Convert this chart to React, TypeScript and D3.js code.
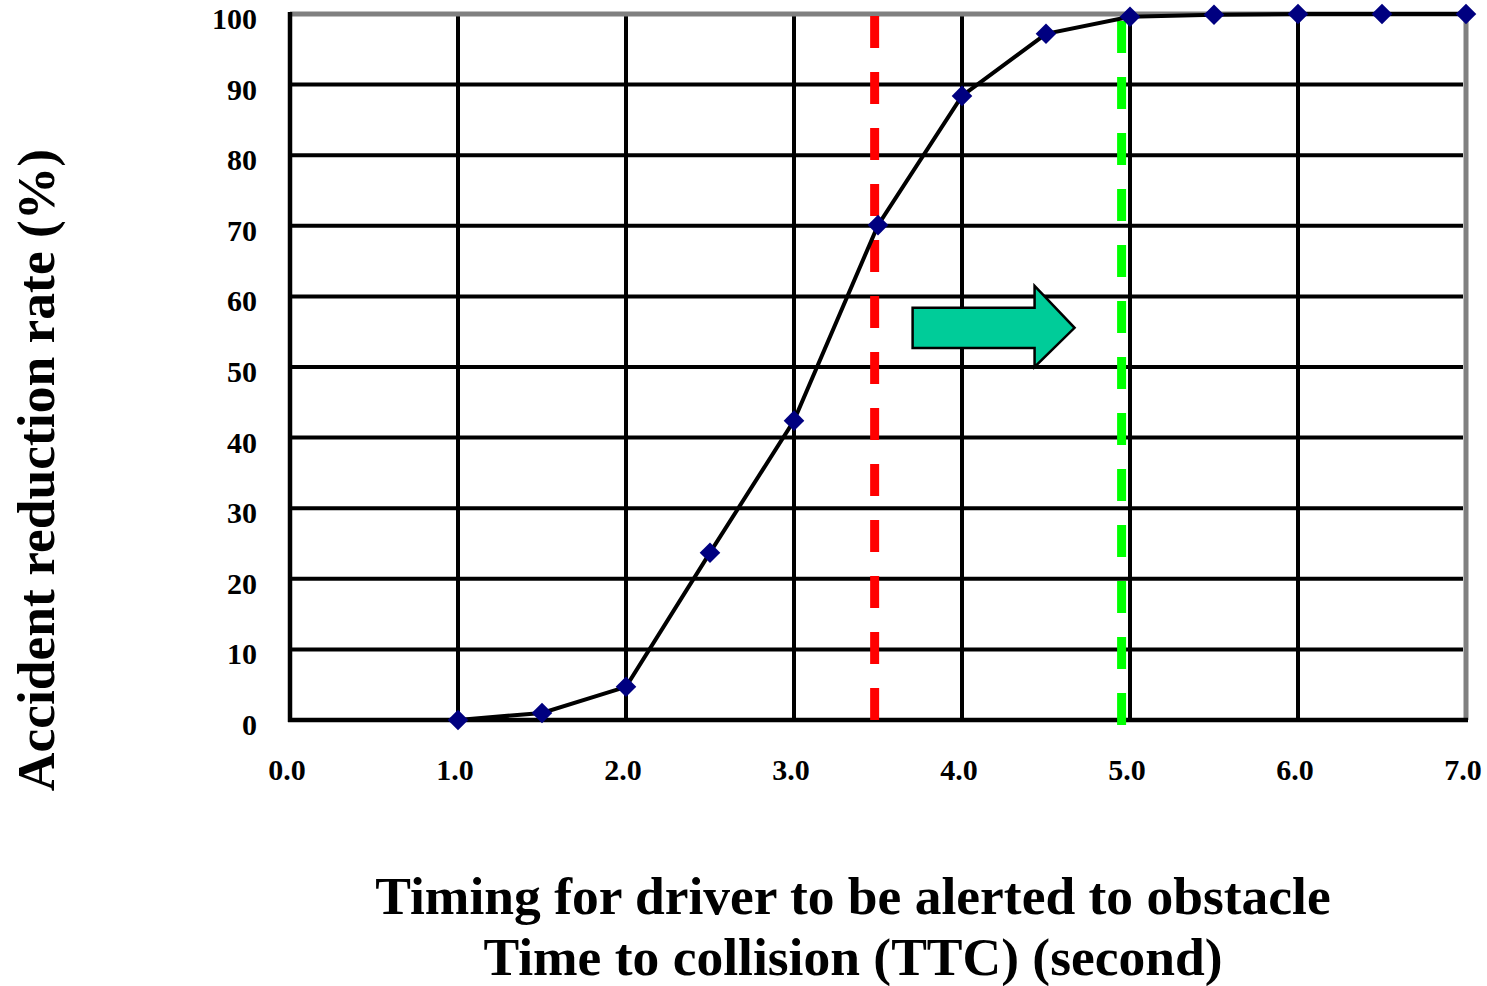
import React from "react";
import * as d3 from "d3";

const ttc = [1.0, 1.5, 2.0, 2.5, 3.0, 3.5, 4.0, 4.5, 5.0, 5.5, 6.0, 6.5, 7.0];
const reduction = [0, 1.0, 4.7, 23.7, 42.4, 70.1, 88.4, 97.2, 99.6, 99.9, 100, 100, 100];
const xTicks = [0, 1, 2, 3, 4, 5, 6, 7];
const yTicks = [0, 10, 20, 30, 40, 50, 60, 70, 80, 90, 100];
const redLineX = 3.48;
const greenLineX = 4.95;
// arrow annotation (data coords)
const arrowBody = { x0: 3.706, x1: 4.432, y0: 52.7, y1: 58.4 };
const arrowHead = { x: 4.432, tip: 4.67, yTop: 61.5, yBottom: 50.0, yMid: 55.55 };
const yTitle = "Accident reduction rate (%)";
const xTitle1 = "Timing for driver to be alerted to obstacle";
const xTitle2 = "Time to collision (TTC) (second)";

const W = 1487;
const H = 986;
const FONT = "'Liberation Serif', 'Times New Roman', serif";

export default function App() {
  const x = d3.scaleLinear().domain([0, 7]).range([290, 1466]);
  const y = d3.scaleLinear().domain([0, 100]).range([720, 14]);
  const line = d3
    .line<number>()
    .x((_, i) => x(ttc[i]))
    .y((d) => y(d));
  const diamond = d3.symbol().type(d3.symbolDiamond2).size(270)();

  const ax = arrowBody;
  const ah = arrowHead;
  const arrowPts = [
    [x(ax.x0), y(ax.y1)],
    [x(ah.x), y(ax.y1)],
    [x(ah.x), y(ah.yTop)],
    [x(ah.tip), y(ah.yMid)],
    [x(ah.x), y(ah.yBottom)],
    [x(ah.x), y(ax.y0)],
    [x(ax.x0), y(ax.y0)],
  ];

  return (
    <svg
      width={W}
      height={H}
      style={{ position: "absolute", left: 0, top: 0, background: "#fff" }}
      fontFamily={FONT}
      fontWeight="bold"
    >
      {/* horizontal gridlines */}
      {yTicks
        .filter((t) => t > 0 && t < 100)
        .map((t) => (
          <line key={"h" + t} x1={x(0)} x2={x(7) - 3} y1={y(t)} y2={y(t)} stroke="#000" strokeWidth={4} />
        ))}
      {/* vertical gridlines */}
      {xTicks
        .filter((t) => t > 0 && t < 7)
        .map((t) => (
          <line key={"v" + t} x1={x(t)} x2={x(t)} y1={y(100)} y2={y(0)} stroke="#000" strokeWidth={4} />
        ))}
      {/* gray border top / right */}
      <line x1={x(0)} x2={x(7)} y1={y(100)} y2={y(100)} stroke="#808080" strokeWidth={5} />
      <line x1={x(7)} x2={x(7)} y1={y(100)} y2={y(0)} stroke="#808080" strokeWidth={5} />
      {/* axes */}
      <line x1={x(0)} x2={x(0)} y1={y(100) - 2} y2={y(0) + 2} stroke="#000" strokeWidth={4.5} />
      <line x1={x(0) - 2} x2={x(7) + 2} y1={y(0)} y2={y(0)} stroke="#000" strokeWidth={4.5} />

      {/* arrow */}
      <polygon points={arrowPts.map((p) => p.join(",")).join(" ")} fill="#00CC99" stroke="#000" strokeWidth={2.5} strokeLinejoin="miter" />

      {/* dashed reference lines */}
      <line x1={x(redLineX)} x2={x(redLineX)} y1={16} y2={720} stroke="#FF0000" strokeWidth={9} strokeDasharray="32 24" />
      <line x1={x(greenLineX)} x2={x(greenLineX)} y1={21} y2={725} stroke="#00FF00" strokeWidth={9} strokeDasharray="32 24" />

      {/* series */}
      <path d={line(reduction) || ""} fill="none" stroke="#000" strokeWidth={4} />
      {reduction.map((v, i) => (
        <path key={"m" + i} d={diamond || ""} transform={`translate(${x(ttc[i])},${y(v)})`} fill="#000080" />
      ))}

      {/* y tick labels */}
      {yTicks.map((t) => (
        <text key={"yl" + t} x={257} y={y(t) + 15} textAnchor="end" fontSize={30}>
          {t}
        </text>
      ))}
      {/* x tick labels */}
      {xTicks.map((t) => (
        <text key={"xl" + t} x={x(t) - 3} y={780} textAnchor="middle" fontSize={30}>
          {t.toFixed(1)}
        </text>
      ))}

      {/* titles */}
      <text transform={`translate(54,470) rotate(-90)`} textAnchor="middle" fontSize={53.5}>
        {yTitle}
      </text>
      <text x={853} y={914} textAnchor="middle" fontSize={53.5}>
        {xTitle1}
      </text>
      <text x={853} y={975} textAnchor="middle" fontSize={53.5}>
        {xTitle2}
      </text>
    </svg>
  );
}
